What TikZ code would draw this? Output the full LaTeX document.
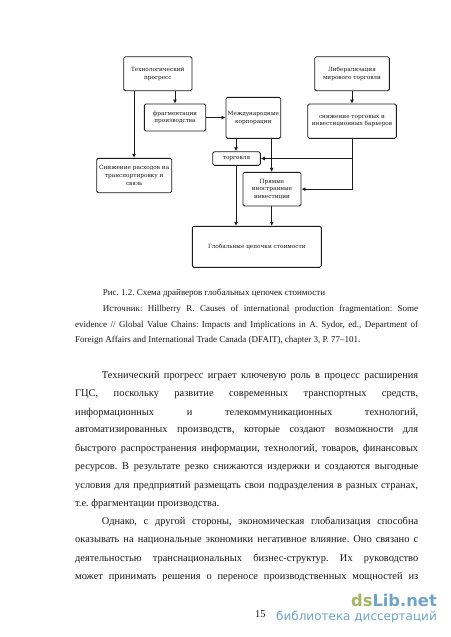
\documentclass[tikz,border=0pt]{standalone}
\usepackage{fontspec}
\setmainfont{Liberation Serif}
\newfontfamily\boxfont{DejaVu Serif}
\newfontfamily\logofont{DejaVu Sans}
\usetikzlibrary{arrows.meta}
\definecolor{inkc}{HTML}{1A1A1A}
\definecolor{logog}{HTML}{A3B565}
\definecolor{logob}{HTML}{6FA3C8}
\newcommand{\jl}[3]{\node[txt] (#1) at (75,#2) {\makebox[343pt][s]{#3}};}
\newcommand{\il}[3]{\node[txt] (#1) at (101.7,#2) {\makebox[316.3pt][s]{#3}};}
\newcommand{\cjl}[3]{\node[captxt] (#1) at (75,#2) {\makebox[343pt][s]{#3}};}
\frenchspacing
\begin{document}
\begin{tikzpicture}[x=1pt,y=-1pt,
  box/.style={draw=inkc,line width=0.9pt,rounded corners=1.5pt,align=center,inner sep=0pt,
    font=\boxfont\fontsize{5.75}{7.7}\selectfont,text=inkc},
  arr/.style={draw=inkc,line width=0.9pt,-{Latex[length=4pt,width=4pt]}},
  txt/.style={anchor=west,inner sep=0pt,yshift=-1pt,font=\fontsize{10.4}{11}\selectfont,text=inkc},
  captxt/.style={anchor=west,inner sep=0pt,yshift=-0.7pt,font=\fontsize{9}{10}\selectfont,text=inkc}]
\useasboundingbox (0,0) rectangle (450,637);
\fill[white] (0,0) rectangle (450,637);
\newcommand{\bx}[6]{\node[box,minimum width=#4pt,minimum height=#5pt] (#1) at ({#2+#4/2},{#3+#5/2}) {#6};}
\bx{tech}{123.7}{56.7}{68.3}{34}{Технологический\\прогресс}
\bx{frag}{144.3}{104}{61.4}{27}{фрагментация\\производства}
\bx{mnc}{226}{97.3}{54.7}{41}{Международные\\корпорации}
\bx{lib}{314.7}{56.7}{74.6}{34}{Либерализация\\мирового торговли}
\bx{bar}{307.7}{104}{88.6}{34.3}{снижение торговых и\\инвестиционных барьеров}
\bx{cost}{96.7}{158.3}{75}{34.4}{Снижение расходов на\\транспортировку и\\связь}
\bx{trade}{212.7}{151.7}{47.6}{13.6}{торговля}
\bx{fdi}{243}{172.3}{58}{33.7}{Прямые\\иностранные\\инвестиции}
\bx{gvc}{192.3}{226.3}{129}{41}{Глобальные цепочки стоимости}
\coordinate (xa) at (134,0);
\coordinate (xb) at (175,0);
\coordinate (xc) at (236,0);
\coordinate (xd) at (271.7,0);
\coordinate (xe) at (352,0);
\draw[arr] (tech.south -| xa) -- (cost.north -| xa);
\draw[arr] (tech.south -| xb) -- (frag.north -| xb);
\draw[arr] (frag.east) -- (mnc.west |- frag.east);
\draw[arr] (mnc.south -| xc) -- (trade.north -| xc);
\draw[arr] (mnc.south -| xd) -- (fdi.north -| xd);
\draw[arr] (trade.south -| xc) -- (gvc.north -| xc);
\draw[arr] (fdi.south -| xd) -- (gvc.north -| xd);
\draw[arr] (lib.south -| xe) -- (bar.north -| xe);
\draw[arr] (bar.south -| xe) -- (xe |- trade.east) -- (trade.east);
\draw[arr] (bar.south -| xe) -- (xe |- fdi.east) -- (fdi.east);
\node[captxt] (c1) at (102.7,293) {Рис. 1.2. Схема драйверов глобальных цепочек стоимости};
\node[captxt] (c2) at (102.7,309) {\makebox[315.3pt][s]{Источник: Hillberry R. Causes of international production fragmentation: Some}};
\cjl{c3}{324.3}{evidence // Global Value Chains: Impacts and Implications in A. Sydor, ed., Department of}
\node[captxt] (c4) at (75,340) {Foreign Affairs and International Trade Canada (DFAIT), chapter 3, P. 77–101.};
\il{p1}{375}{Технический прогресс играет ключевую роль в процесс расширения}
\jl{p2}{393.3}{ГЦС, поскольку развитие современных транспортных средств,}
\jl{p3}{411.7}{информационных и телекоммуникационных технологий,}
\jl{p4}{430}{автоматизированных производств, которые создают возможности для}
\jl{p5}{448.3}{быстрого распространения информации, технологий, товаров, финансовых}
\jl{p6}{466.7}{ресурсов. В результате резко снижаются издержки и создаются выгодные}
\jl{p7}{485}{условия для предприятий размещать свои подразделения в разных странах,}
\node[txt] (p8) at (75,503.3) {т.е. фрагментации производства.};
\il{q1}{521}{Однако, с другой стороны, экономическая глобализация способна}
\jl{q2}{539.3}{оказывать на национальные экономики негативное влияние. Оно связано с}
\jl{q3}{557.7}{деятельностью транснациональных бизнес-структур. Их руководство}
\jl{q4}{576}{может принимать решения о переносе производственных мощностей из}
\node[txt] (pg) at (255,613) {15};
\node[anchor=east,inner sep=0pt,font=\logofont\bfseries\fontsize{16.3}{18}\selectfont] (logo) at (437,600) {\textcolor{logog}{ds}\textcolor{logob}{Lib.net}};
\node[anchor=east,inner sep=0pt,font=\logofont\fontsize{12}{13}\selectfont,text=logob] (logo2) at (437,617) {библиотека диссертаций};
\end{tikzpicture}
\end{document}
